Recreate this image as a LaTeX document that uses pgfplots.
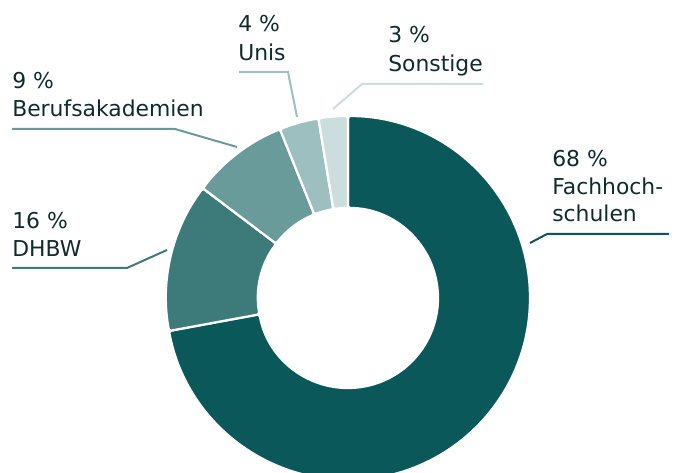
\documentclass[border=0pt]{standalone}
\usepackage{pgfplots}
\pgfplotsset{compat=1.18}
\usepackage{fontspec}
\setmainfont{DejaVu Sans}
\definecolor{cA}{HTML}{0B585B}
\definecolor{cB}{HTML}{3D7A7A}
\definecolor{cC}{HTML}{6A9B9B}
\definecolor{cD}{HTML}{9EBFBF}
\definecolor{cE}{HTML}{CCDDDD}
\definecolor{txt}{HTML}{0F2B2B}
\tikzset{lbl/.style={font=\fontsize{16.4}{19}\selectfont, text=txt, inner sep=0pt, anchor=base west}}
% #1 start (percent, clockwise from 12 o'clock), #2 share (percent), #3 colour
\newcommand\sector[3]{%
  \filldraw[fill=#3, draw=white, line width=1.7pt, line join=round, rounded corners=1.8pt]
    (axis cs:348,298) ++({90-3.6*(#1)}:136.5pt)
    arc[start angle={90-3.6*(#1)}, end angle={90-3.6*(#1+#2)}, radius=136.5pt]
    -- ++({270-3.6*(#1+#2)}:69pt)
    arc[start angle={90-3.6*(#1+#2)}, end angle={90-3.6*(#1)}, radius=67.5pt] -- cycle;}
\begin{document}
\begin{tikzpicture}
\begin{axis}[
  x=0.75pt, y=0.75pt, y dir=reverse,
  xmin=0, xmax=684, ymin=0, ymax=473,
  hide axis, clip=false,
]
% shares as drawn: 72.1, 13.2, 8.6, 3.5, 2.6
\sector{0}{72.1}{cA}
\sector{72.1}{13.2}{cB}
\sector{85.3}{8.6}{cC}
\sector{93.9}{3.5}{cD}
\sector{97.4}{2.6}{cE}
% leader lines
\addplot[cA, line width=1.5pt, no marks] coordinates {(530,243) (547,234) (669,234)};
\addplot[cB, line width=1.5pt, no marks] coordinates {(12,268) (127,268) (167,250)};
\addplot[cC, line width=1.5pt, no marks] coordinates {(12,129) (175,129) (237,147)};
\addplot[cD, line width=1.5pt, no marks] coordinates {(239,72) (288,72) (297,117)};
\addplot[cE, line width=1.5pt, no marks] coordinates {(333,109) (362,84) (483,84)};
% labels
\node[lbl] at (axis cs:552,167) {68 \%};
\node[lbl] at (axis cs:552,195) {Fachhoch-};
\node[lbl] at (axis cs:552,222) {schulen};
\node[lbl] at (axis cs:12,229) {16 \%};
\node[lbl] at (axis cs:12,257) {DHBW};
\node[lbl] at (axis cs:12,89) {9 \%};
\node[lbl] at (axis cs:12,117) {Berufsakademien};
\node[lbl] at (axis cs:238,32) {4 \%};
\node[lbl] at (axis cs:238,61) {Unis};
\node[lbl] at (axis cs:388,43) {3 \%};
\node[lbl] at (axis cs:388,72) {Sonstige};
\coordinate (tl) at (axis cs:0,0);
\coordinate (br) at (axis cs:684,473);
\end{axis}
\pgfresetboundingbox
\useasboundingbox (tl) rectangle (br);
\end{tikzpicture}
\end{document}
